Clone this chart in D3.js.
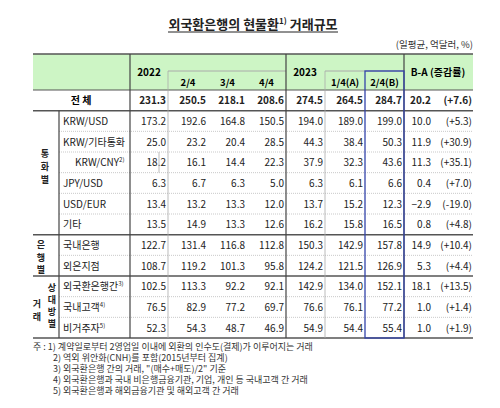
<!DOCTYPE html><html><head><meta charset="utf-8"><script src="https://cdn.jsdelivr.net/npm/d3@7"></script>
<style>body{margin:0;background:#fff}text{font-family:"Noto Sans CJK KR","Noto Sans",sans-serif}</style></head><body>
<svg id="c" width="500" height="408"></svg>
<script>
const title="외국환은행의 현물환";
const unit="(일평균, 억달러, %)";
const years=["2022","2023"];
const quarters=["2/4","3/4","4/4","1/4(A)","2/4(B)"];
const diffHeader="B-A (증감률)";
const rowLabels=["KRW/USD","KRW/기타통화","KRW/CNY","JPY/USD","USD/EUR","기타","국내은행","외은지점","외국환은행간","국내고객","비거주자"];
const rowSup=["","","2)","","","","","","3)","4)","5)"];
const totalRow=[231.3,250.5,218.1,208.6,274.5,264.5,284.7];
const values=[
[173.2,192.6,164.8,150.5,194.0,189.0,199.0],
[25.0,23.2,20.4,28.5,44.3,38.4,50.3],
[18.2,16.1,14.4,22.3,37.9,32.3,43.6],
[6.3,6.7,6.3,5.0,6.3,6.1,6.6],
[13.4,13.2,13.3,12.0,13.7,15.2,12.3],
[13.5,14.9,13.3,12.6,16.2,15.8,16.5],
[122.7,131.4,116.8,112.8,150.3,142.9,157.8],
[108.7,119.2,101.3,95.8,124.2,121.5,126.9],
[102.5,113.3,92.2,92.1,142.9,134.0,152.1],
[76.5,82.9,77.2,69.7,76.6,76.1,77.2],
[52.3,54.3,48.7,46.9,54.9,54.4,55.4]];
const diffs=[20.2,10.0,11.9,11.3,0.4,-2.9,0.8,14.9,5.3,18.1,1.0,1.0];
const rates=["(+7.6)","(+5.3)","(+30.9)","(+35.1)","(+7.0)","(-19.0)","(+4.8)","(+10.4)","(+4.4)","(+13.5)","(+1.4)","(+1.9)"];
const notes=["주 : 1) 계약일로부터 2영업일 이내에 외환의 인수도(결제)가 이루어지는 거래","2) 역외 위안화(CNH)를 포함(2015년부터 집계)","3) 외국환은행 간의 거래, \"(매수+매도)/2\" 기준","4) 외국환은행과 국내 비은행금융기관, 기업, 개인 등 국내고객 간 거래","5) 외국환은행과 해외금융기관 및 해외고객 간 거래"];

const svg=d3.select("#c");
const colEdges=[33,59,130,168,208,247,286,325,365,404,473];
const x=i=>colEdges[i];
const y=d3.scaleBand().domain(d3.range(12)).range([90,338]);
const rh=y.bandwidth();
const grey="#aaa";
svg.append("rect").attr("x",x(0)).attr("y",54).attr("width",x(10)-x(0)).attr("height",36).attr("fill","#cdf5c5");
const t=svg.append("text").attr("x",253).attr("y",29).attr("text-anchor","middle").attr("font-size",13).attr("font-weight","bold").attr("fill","#222");
t.append("tspan").text(title);t.append("tspan").attr("font-size",8).attr("dy",-5).text("1)");t.append("tspan").attr("dy",5).text(" 거래규모");
svg.append("line").attr("x1",168).attr("x2",338).attr("y1",32).attr("y2",32).attr("stroke","#222");
svg.append("text").attr("x",473).attr("y",48).attr("text-anchor","end").attr("font-size",9.5).attr("fill","#333").text(unit);
svg.append("text").attr("x",149).attr("y",76).attr("text-anchor","middle").attr("font-size",10).attr("font-weight","bold").text(years[0]);
svg.append("text").attr("x",305).attr("y",76).attr("text-anchor","middle").attr("font-size",10).attr("font-weight","bold").text(years[1]);
[3,4,5,7,8].forEach((c,i)=>svg.append("text").attr("x",(x(c)+x(c+1))/2).attr("y",86).attr("text-anchor","middle").attr("font-size",9.5).attr("font-weight","bold").text(quarters[i]));
svg.append("text").attr("x",438).attr("y",76).attr("text-anchor","middle").attr("font-size",10).attr("font-weight","bold").text(diffHeader);
svg.append("line").attr("x1",168).attr("x2",286).attr("y1",71).attr("y2",71).attr("stroke",grey);
svg.append("line").attr("x1",325).attr("x2",404).attr("y1",71).attr("y2",71).attr("stroke",grey);
svg.append("text").attr("x",81).attr("y",y(0)+rh/2+4).attr("text-anchor","middle").attr("font-size",10).attr("font-weight","bold").text("전  체");
const allRows=[totalRow,...values];
allRows.forEach((r,ri)=>{
 const cy=y(ri)+rh/2+4, b=ri===0?"bold":"normal";
 r.forEach((v,ci)=>svg.append("text").attr("x",x(ci+3)-2).attr("y",cy).attr("text-anchor","end").attr("font-size",10).attr("font-weight",b).attr("fill","#222").text(d3.format(".1f")(v)));
 svg.append("text").attr("x",431).attr("y",cy).attr("text-anchor","end").attr("font-size",10).attr("font-weight",b).attr("fill","#222").text(d3.format(".1f")(diffs[ri]));
 svg.append("text").attr("x",472).attr("y",cy).attr("text-anchor","end").attr("font-size",10).attr("font-weight",b).attr("fill","#222").text(rates[ri]);
 if(ri>0){const L=svg.append("text").attr("x",ri===3?75:63).attr("y",cy).attr("font-size",10).attr("fill","#222");
  L.append("tspan").text(rowLabels[ri-1]); if(rowSup[ri-1])L.append("tspan").attr("font-size",6).attr("dy",-4).text(rowSup[ri-1]);}
});
function vert(cx,y0,chars,step){chars.forEach((ch,i)=>svg.append("text").attr("x",cx).attr("y",y0+i*step).attr("text-anchor","middle").attr("font-size",9).attr("font-weight","bold").attr("fill","#222").text(ch));}
vert(45,157,["통","화","별"],13);
vert(41,248,["은","행","별"],12.5);
vert(37,307,["거","래"],13);
vert(52,291,["상","대","방","별"],12);
const thick=[1,7,9,12];
for(let r=1;r<=12;r++){
 const yy=y(r)??338;
 svg.append("line").attr("x1",thick.includes(r)?x(0):x(1)).attr("x2",x(10)).attr("y1",yy).attr("y2",yy)
  .attr("stroke",thick.includes(r)?"#555":"#bbb").attr("stroke-width",thick.includes(r)?1.5:0.8).attr("stroke-dasharray",thick.includes(r)?null:"1,1");
}
svg.append("line").attr("x1",x(0)).attr("x2",x(10)).attr("y1",90).attr("y2",90).attr("stroke","#555").attr("stroke-width",1.2);
svg.append("line").attr("x1",x(0)).attr("x2",x(10)).attr("y1",54).attr("y2",54).attr("stroke","#555").attr("stroke-width",1.5);
svg.append("line").attr("x1",x(3)-9).attr("x2",x(3)-9).attr("y1",y(3)).attr("y2",y(4)).attr("stroke","#bbb");
[[x(1),y(1),338],[x(2),54,338],[x(3),71,338],[x(6),54,338],[x(7),71,338],[x(9),54,338]].forEach(([xx,a,b])=>svg.append("line").attr("x1",xx).attr("x2",xx).attr("y1",a).attr("y2",b).attr("stroke",xx===x(3)||xx===x(7)?"#aaa":"#444").attr("stroke-width",xx===x(3)||xx===x(7)?0.8:1.2));
svg.append("rect").attr("x",x(8)).attr("y",71).attr("width",x(9)-x(8)).attr("height",338-71).attr("fill","none").attr("stroke","#3344aa").attr("stroke-width",1.3);
notes.forEach((n,i)=>svg.append("text").attr("x",i===0?33:53).attr("y",350+i*11).attr("font-size",9).attr("fill","#333").text(n));
</script></body></html>
